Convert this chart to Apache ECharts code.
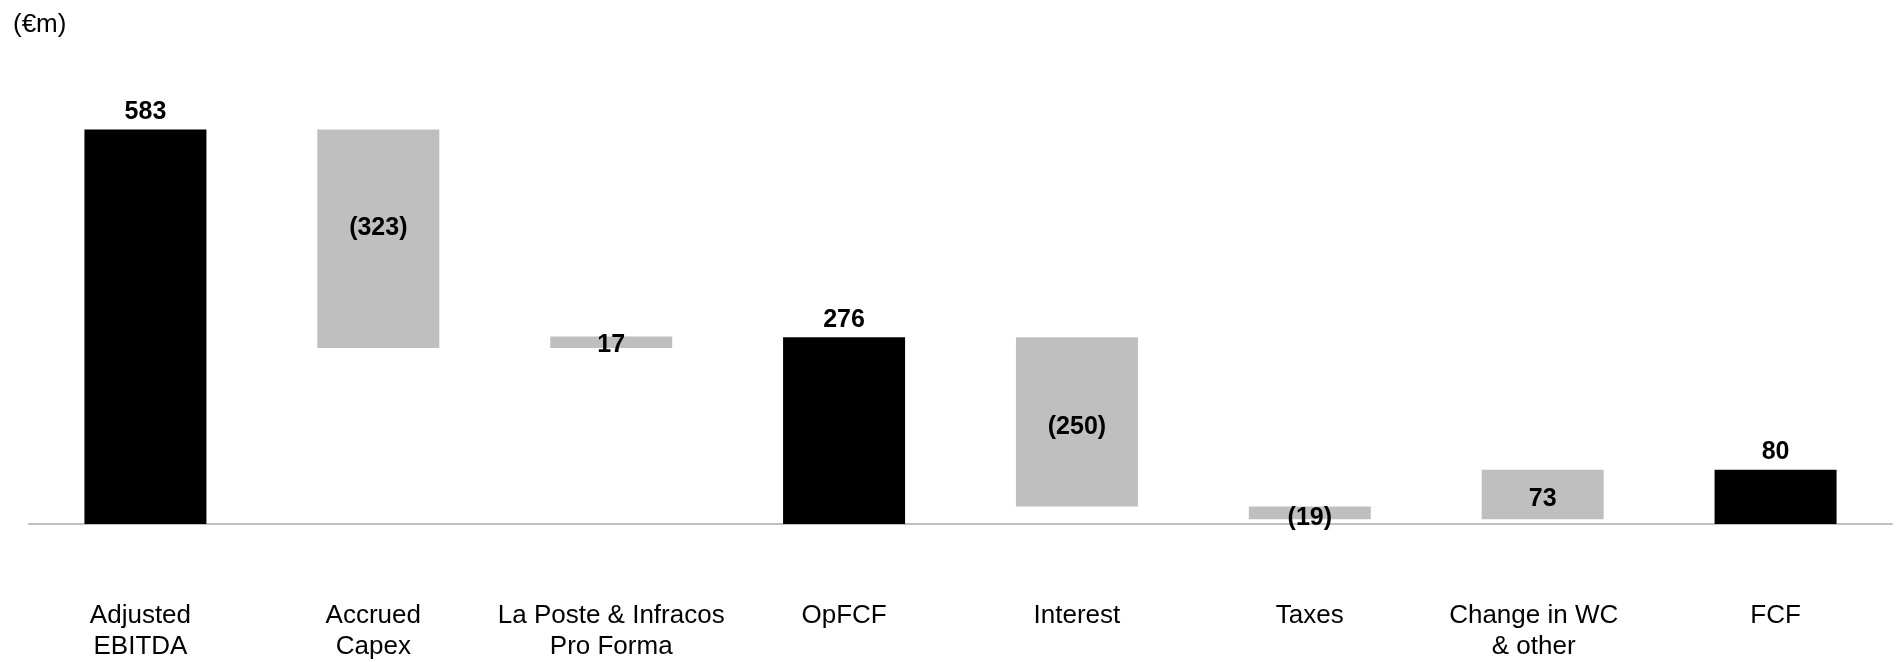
<!DOCTYPE html>
<html>
<head>
<meta charset="utf-8">
<script src="https://cdn.jsdelivr.net/npm/echarts@6/dist/echarts.min.js"></script>
<style>
html,body{margin:0;padding:0;background:#fff;}
#chart{width:1902px;height:662px;}
</style>
</head>
<body>
<div id="chart"></div>
<script>
var categories = ['Adjusted\nEBITDA', 'Accrued\nCapex', 'La Poste & Infracos\nPro Forma', 'OpFCF', 'Interest', 'Taxes', 'Change in WC\n& other', 'FCF'];
var values = [583, -323, 17, 276, -250, -19, 73, 80];
var isTotal = [true, false, false, true, false, false, false, true];
var unitLabel = '(€m)';

// style tweaks (vertical label nudge for inside labels, horizontal shift of category labels)
var insideNudge = { 1: -11, 2: 3 };
var catShift = { 0: 5, 1: 5, 6: 9 };

var baseData = [], barData = [];
var running = 0;
for (var i = 0; i < values.length; i++) {
  if (isTotal[i]) {
    running = values[i];
    baseData.push(0);
    barData.push({
      value: values[i],
      itemStyle: { color: '#000000' },
      label: { position: 'top', distance: 5 }
    });
  } else {
    var start = running, end = running + values[i];
    baseData.push(Math.min(start, end));
    barData.push({
      value: Math.abs(values[i]),
      itemStyle: { color: '#bfbfbf' },
      label: { position: 'inside', offset: [0, (i in insideNudge) ? insideNudge[i] : 5] }
    });
    running = end;
  }
}

var catData = categories.map(function (c, i) {
  if (i in catShift) {
    return { value: c, textStyle: { padding: [0, 2 * catShift[i], 0, 0] } };
  }
  return c;
});

function fmt(v) { return v < 0 ? '(' + Math.abs(v) + ')' : String(v); }

var chart = echarts.init(document.getElementById('chart'));
chart.setOption({
  animation: false,
  backgroundColor: '#ffffff',
  title: {
    text: unitLabel,
    left: 8,
    top: 7,
    textStyle: { fontFamily: 'Liberation Sans', fontSize: 26, fontWeight: 'normal', color: '#000' }
  },
  grid: { left: 29, right: 10, top: 118, bottom: 138, containLabel: false },
  xAxis: {
    type: 'category',
    data: catData,
    axisLine: { show: true, lineStyle: { color: '#c0c0c0', width: 2 } },
    axisTick: { show: false },
    axisLabel: {
      interval: 0,
      margin: 76,
      fontFamily: 'Liberation Sans',
      fontSize: 26,
      lineHeight: 31,
      color: '#000'
    }
  },
  yAxis: {
    type: 'value',
    min: 0,
    max: 600,
    show: false,
    splitLine: { show: false }
  },
  series: [
    {
      type: 'bar',
      stack: 'wf',
      data: baseData,
      barWidth: 122,
      itemStyle: { color: 'transparent' },
      emphasis: { disabled: true },
      silent: true
    },
    {
      type: 'bar',
      stack: 'wf',
      data: barData,
      barWidth: 122,
      label: {
        show: true,
        fontFamily: 'Liberation Sans',
        fontSize: 25,
        fontWeight: 'bold',
        color: '#000',
        formatter: function (p) { return fmt(values[p.dataIndex]); }
      }
    }
  ]
});
</script>
</body>
</html>
